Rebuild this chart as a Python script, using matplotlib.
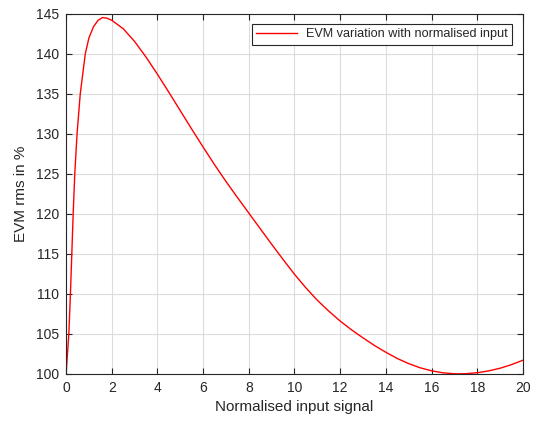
# LIBS

import matplotlib
matplotlib.use('Agg')
import matplotlib.pyplot as plt

#=================
# DATA
#=================
# points
x_val = [0, 0.12, 0.19, 0.25, 0.31, 0.38, 0.48, 0.62, 0.84, 1.0, 1.2, 1.4,
         1.6, 1.8, 2.0, 2.5, 3.0, 3.5, 4.0, 4.5, 5.0, 5.5, 6.0, 6.5,
         7.0, 7.5, 8.0, 8.5, 9.0, 9.5, 10.0, 10.5, 11.0, 11.5, 12.0, 12.5,
         13.0, 13.5, 14.0, 14.5, 15.0, 15.5, 16.0, 16.5, 17.0, 17.2, 17.5,
         18.0, 18.5, 19.0, 19.5, 20.0]
y_val = [100, 105, 110, 115, 120, 125, 130, 135, 140, 142.0, 143.4, 144.2,
         144.55, 144.45, 144.2, 143.15, 141.55, 139.6, 137.45, 135.2, 132.9, 130.6,
         128.35, 126.15, 124.05, 122.05, 120.1, 118.15, 116.2, 114.3, 112.45,
         110.75, 109.2, 107.85, 106.6, 105.5, 104.5, 103.55, 102.7, 101.92,
         101.28, 100.76, 100.38, 100.13, 100.01, 100.0, 100.02, 100.14, 100.37,
         100.7, 101.15, 101.7]

x_ticks = [0, 2, 4, 6, 8, 10, 12, 14, 16, 18, 20]
y_ticks = [100, 105, 110, 115, 120, 125, 130, 135, 140, 145]

title_x = "Normalised input signal"
title_y = "EVM rms in %"
legend_text = "EVM variation with normalised input"

#=================
# PLOT
#=================
plt.rcParams['font.family'] = ['Liberation Sans', 'DejaVu Sans']
dark = '#262626'

fig = plt.figure(figsize=(5.33, 4.21), dpi=100)
ax = fig.add_axes([0.124, 0.112, 0.857, 0.855])

ax.plot(x_val, y_val, color='#ff0000', linewidth=1.0, label=legend_text)

ax.set_xlim(0, 20)
ax.set_ylim(100, 145)
ax.set_xticks(x_ticks)
ax.set_yticks(y_ticks)
ax.grid(True, color='#dcdcdc', linewidth=0.8)
ax.set_axisbelow(True)

ax.tick_params(direction='in', length=4, width=0.8, colors=dark,
               labelsize=10, top=True, right=True, pad=5)
for s in ax.spines.values():
    s.set_color(dark)
    s.set_linewidth(0.8)

ax.set_xlabel(title_x, fontsize=11, color=dark, labelpad=4)
ax.set_ylabel(title_y, fontsize=11, color=dark, labelpad=6)

leg = ax.legend(loc='upper right', fontsize=9.1, handlelength=3.2,
                handletextpad=0.7, fancybox=False, framealpha=1,
                borderpad=0.35, borderaxespad=0,
                bbox_to_anchor=(0.976, 0.972))
leg.get_frame().set_edgecolor(dark)
leg.get_frame().set_linewidth(0.8)
for t in leg.get_texts():
    t.set_color(dark)

fig.savefig('out.png', dpi=100)
